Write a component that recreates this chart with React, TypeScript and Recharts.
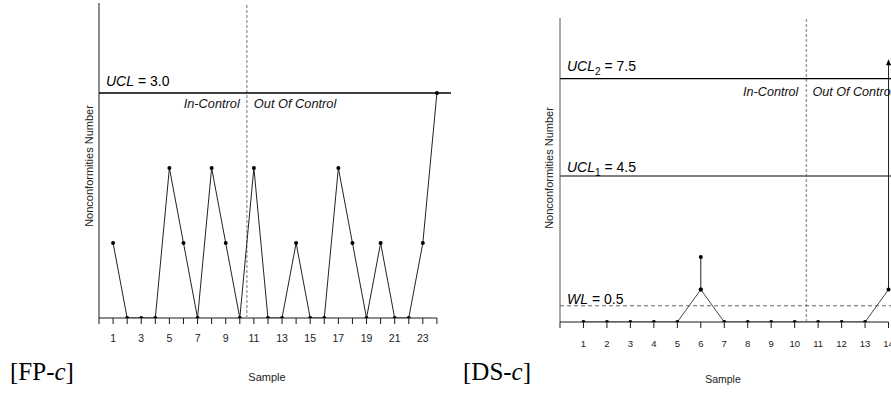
import {
  ComposedChart,
  Line,
  Scatter,
  XAxis,
  YAxis,
  ReferenceLine,
  ReferenceDot,
} from "recharts";

// FP-c panel
const fpSamples = [1, 2, 3, 4, 5, 6, 7, 8, 9, 10, 11, 12, 13, 14, 15, 16, 17, 18, 19, 20, 21, 22, 23, 24];
const fpCounts = [1, 0, 0, 0, 2, 1, 0, 2, 1, 0, 2, 0, 0, 1, 0, 0, 2, 1, 0, 1, 0, 0, 1, 3];
const fpTicks = [0, 1, 2, 3, 4, 5, 6, 7, 8, 9, 10, 11, 12, 13, 14, 15, 16, 17, 18, 19, 20, 21, 22, 23, 24];
const fpTickLabels = [1, 3, 5, 7, 9, 11, 13, 15, 17, 19, 21, 23];
const fpUcl = 3.0;
const fpYMax = 4.2;

// DS-c panel
const dsSamples = [1, 2, 3, 4, 5, 6, 7, 8, 9, 10, 11, 12, 13, 14];
const dsCounts = [0, 0, 0, 0, 0, 1, 0, 0, 0, 0, 0, 0, 0, 1];
const dsTicks = [0, 1, 2, 3, 4, 5, 6, 7, 8, 9, 10, 11, 12, 13, 14];
const dsTickLabels = [1, 2, 3, 4, 5, 6, 7, 8, 9, 10, 11, 12, 13, 14];
const dsSecondSample = [6];
const dsSecondFrom = [1];
const dsSecondTo = [2];
const dsArrowSample = 14;
const dsArrowFrom = 1;
const dsArrowTo = 8.1;
const dsUcl1 = 4.5;
const dsUcl2 = 7.5;
const dsWl = 0.5;
const dsYMax = 9.37;

const changePoint = 10.5;

const SANS = "'Liberation Sans', Arial, sans-serif";
const SERIF = "'Liberation Serif', 'Times New Roman', serif";
const INK = "#1a1a1a";

const fpData = fpSamples.map((s, i) => ({ x: s, y: fpCounts[i] }));
const dsData = dsSamples.map((s, i) => ({ x: s, y: dsCounts[i] }));

const dotStyle = { r: 2, fill: "#000", stroke: "#000", strokeWidth: 0 };

function limitLabel(name: string, sub: string | null, value: string, dy: number, size: number) {
  return (props: any) => {
    const vb = props.viewBox || {};
    return (
      <text x={vb.x + 7} y={vb.y + dy} fontSize={size} fontFamily={SANS} fill="#000">
        <tspan fontStyle="italic">{name}</tspan>
        {sub ? (
          <tspan fontSize={size * 0.72} dy={4}>
            {sub}
          </tspan>
        ) : null}
        <tspan dy={sub ? -4 : 0}>{" = " + value}</tspan>
      </text>
    );
  };
}

function regionLabel(dy: number, leftGap: number, rightGap: number, size: number) {
  return (props: any) => {
    const vb = props.viewBox || {};
    return (
      <g fontSize={size} fontFamily={SANS} fontStyle="italic" fill="#111">
        <text x={vb.x - leftGap} y={vb.y + dy} textAnchor="end">
          In-Control
        </text>
        <text x={vb.x + rightGap} y={vb.y + dy} textAnchor="start">
          Out Of Control
        </text>
      </g>
    );
  };
}

function arrowHead(props: any) {
  const { cx, cy } = props;
  return <polygon points={`${cx},${cy} ${cx - 2.5},${cy + 6} ${cx + 2.5},${cy + 6}`} fill="#000" />;
}

function FpChart() {
  return (
    <ComposedChart
      width={460}
      height={397}
      data={fpData}
      margin={{ top: 3, right: 9, left: 99, bottom: 49 }}
    >
      <XAxis
        dataKey="x"
        type="number"
        domain={[0, 25]}
        ticks={fpTicks}
        interval={0}
        height={30}
        axisLine={false}
        tickLine={{ stroke: INK }}
        tickSize={6}
        tickMargin={11}
        tick={{ fontSize: 10.5, fill: "#222", fontFamily: SANS }}
        tickFormatter={(v) => (fpTickLabels.includes(v) ? String(v) : "")}
      />
      <YAxis hide type="number" domain={[0, fpYMax]} allowDataOverflow />
      <ReferenceLine segment={[{ x: 0, y: 0 }, { x: 0, y: fpYMax }]} stroke={INK} strokeWidth={1} />
      <ReferenceLine segment={[{ x: 0, y: 0 }, { x: 24, y: 0 }]} stroke={INK} strokeWidth={1} />
      <ReferenceLine x={changePoint} stroke="#999" strokeWidth={1.4} strokeDasharray="3 2" />
      <ReferenceLine
        y={fpUcl}
        stroke="#000"
        strokeWidth={1.3}
        label={limitLabel("UCL", null, "3.0", -7, 14)}
      />
      <ReferenceDot
        x={changePoint}
        y={fpUcl}
        r={0}
        fill="none"
        stroke="none"
        label={regionLabel(15, 7, 7, 12.8)}
      />
      <Line
        dataKey="y"
        type="linear"
        stroke="#222"
        strokeWidth={1}
        dot={dotStyle}
        activeDot={false}
        isAnimationActive={false}
      />
    </ComposedChart>
  );
}

function DsChart() {
  const stageLines = dsSecondSample.map((s, i) => [
    { x: s, y: dsSecondFrom[i] },
    { x: s, y: dsSecondTo[i] },
  ]);
  const arrowLine = [
    { x: dsArrowSample, y: dsArrowFrom },
    { x: dsArrowSample, y: dsArrowTo - 0.12 },
  ];
  return (
    <ComposedChart
      width={470}
      height={397}
      data={dsData}
      margin={{ top: 18, right: 28, left: 90, bottom: 45 }}
    >
      <XAxis
        dataKey="x"
        type="number"
        domain={[0, 15]}
        ticks={dsTicks}
        interval={0}
        height={30}
        axisLine={false}
        tickLine={{ stroke: INK }}
        tickSize={6}
        tickMargin={12}
        tick={{ fontSize: 9.5, fill: "#222", fontFamily: SANS }}
        tickFormatter={(v) => (dsTickLabels.includes(v) ? String(v) : "")}
      />
      <YAxis hide type="number" domain={[0, dsYMax]} allowDataOverflow />
      <ReferenceLine segment={[{ x: 0, y: 0 }, { x: 0, y: dsYMax }]} stroke="#555" strokeWidth={1} />
      <ReferenceLine segment={[{ x: 0, y: 0 }, { x: 14, y: 0 }]} stroke={INK} strokeWidth={1} />
      <ReferenceLine x={changePoint} stroke="#999" strokeWidth={1.4} strokeDasharray="3 2" />
      <ReferenceLine
        y={dsUcl2}
        stroke="#000"
        strokeWidth={1.3}
        label={limitLabel("UCL", "2", "7.5", -8, 14)}
      />
      <ReferenceLine
        y={dsUcl1}
        stroke="#555"
        strokeWidth={1.6}
        label={limitLabel("UCL", "1", "4.5", -4, 14)}
      />
      <ReferenceLine
        y={dsWl}
        stroke="#666"
        strokeWidth={1}
        strokeDasharray="4 3"
        label={limitLabel("WL", null, "0.5", -2, 14)}
      />
      <ReferenceDot
        x={changePoint}
        y={dsUcl2}
        r={0}
        fill="none"
        stroke="none"
        label={regionLabel(17, 8, 6, 12.6)}
      />
      <Line
        dataKey="y"
        type="linear"
        stroke="#333"
        strokeWidth={0.9}
        dot={dotStyle}
        activeDot={false}
        isAnimationActive={false}
      />
      {stageLines.map((d, i) => (
        <Line
          key={"stage" + i}
          data={d}
          dataKey="y"
          type="linear"
          stroke="#222"
          strokeWidth={1}
          dot={dotStyle}
          activeDot={false}
          isAnimationActive={false}
        />
      ))}
      <Line
        data={arrowLine}
        dataKey="y"
        type="linear"
        stroke="#222"
        strokeWidth={1}
        dot={false}
        activeDot={false}
        isAnimationActive={false}
      />
      <Scatter
        data={[{ x: dsArrowSample, y: dsArrowTo }]}
        dataKey="y"
        shape={arrowHead}
        isAnimationActive={false}
      />
    </ComposedChart>
  );
}

export default function App() {
  return (
    <div
      style={{
        position: "absolute",
        left: 0,
        top: 0,
        width: 891,
        height: 397,
        overflow: "hidden",
        background: "#fff",
      }}
    >
      <div style={{ position: "absolute", left: 0, top: 0 }}>
        <FpChart />
      </div>
      <div style={{ position: "absolute", left: 470, top: 0 }}>
        <DsChart />
      </div>
      <svg
        width={891}
        height={397}
        style={{ position: "absolute", left: 0, top: 0, pointerEvents: "none" }}
      >
        <g fontFamily={SANS} fontSize={11} fill="#222">
          <text transform="translate(93,166) rotate(-90)" textAnchor="middle">
            Nonconformities Number
          </text>
          <text transform="translate(553,168) rotate(-90)" textAnchor="middle">
            Nonconformities Number
          </text>
          <text x={267} y={381} textAnchor="middle">
            Sample
          </text>
          <text x={723} y={383} textAnchor="middle" fontSize={10.5}>
            Sample
          </text>
        </g>
        <g fontFamily={SERIF} fontSize={25} fill="#000">
          <text x={10} y={380}>
            [FP-<tspan fontStyle="italic">c</tspan>]
          </text>
          <text x={463} y={380}>
            [DS-<tspan fontStyle="italic">c</tspan>]
          </text>
        </g>
      </svg>
    </div>
  );
}
